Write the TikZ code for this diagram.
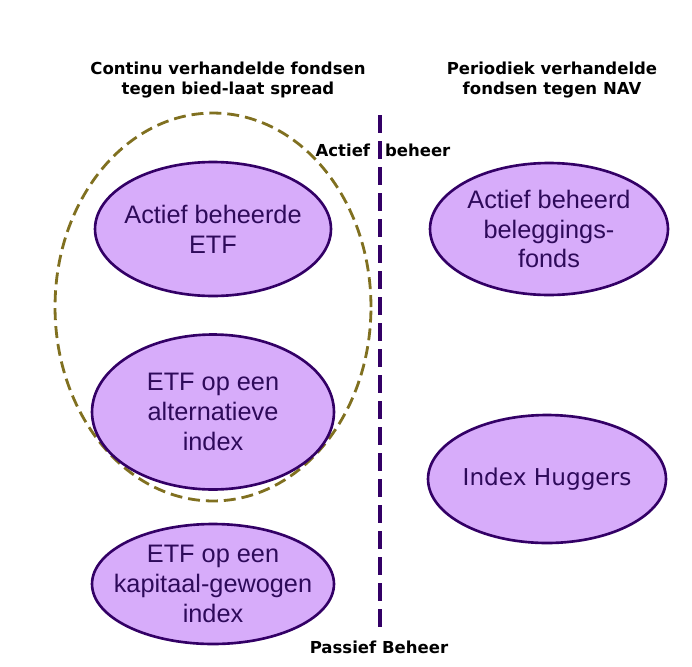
\documentclass[tikz,border=0pt]{standalone}
\usepackage{fontspec}
\setmainfont{Liberation Sans}
\newfontfamily\verdanalike{DejaVu Sans}
\usetikzlibrary{shapes.geometric,positioning}
\definecolor{lilac}{RGB}{215,172,250}
\definecolor{fundedge}{RGB}{51,0,102}
\definecolor{fundtext}{RGB}{46,10,90}
\definecolor{olivedash}{RGB}{128,112,32}

\tikzset{
	fund/.style={ellipse, draw=fundedge, fill=lilac, line width=1.5pt, inner sep=0pt},
	fundlabel/.style={text=fundtext, align=center, font=\fontsize{14.4}{17}\selectfont},
	heading/.style={align=center, font=\verdanalike\bfseries\fontsize{9.4}{11.3}\selectfont},
}

\begin{document}
\begin{tikzpicture}[x=0.02cm, y=-0.02cm]
		\useasboundingbox (0,0) rectangle (692,666);

		\node[heading] at (228,80)(hcont){Continu verhandelde fondsen\\tegen bied-laat spread};
		\node[heading] at (552,80)(hper){Periodiek verhandelde\\fondsen tegen NAV};

		\draw[olivedash, line width=1.6pt, dash pattern=on 6.8pt off 3.4pt]
			(213,307) ellipse [x radius=3.16cm, y radius=3.88cm];

		\node[fund, minimum width=4.72cm, minimum height=2.68cm,
			label={[fundlabel]center:Actief beheerde\\ETF}] at (213,229)(etfact){};
		\node[fund, minimum width=4.84cm, minimum height=3.1cm,
			label={[fundlabel]center:ETF op een\\alternatieve\\index}] at (213,412)(etfalt){};
		\node[fund, minimum width=4.84cm, minimum height=2.4cm,
			label={[fundlabel]center:ETF op een\\kapitaal-gewogen\\index}] at (213,584)(etfcap){};

		\node[fund, minimum width=4.76cm, minimum height=2.64cm,
			label={[fundlabel]center:Actief beheerd\\beleggings-\\fonds}] at (549,229)(fund){};
		\node[fund, minimum width=4.76cm, minimum height=2.56cm,
			label={[fundlabel, font=\verdanalike\fontsize{13.2}{16}\selectfont]center:Index Huggers}] at (547,479)(hug){};

		\node[heading] at (383,150)(act){Actief\hspace{0.9em}beheer};
		\node[heading] at (379,647)(pas){Passief\hspace{0.35em}Beheer};

		\coordinate (top) at (380,115);
		\coordinate (bot) at (380,630);
		\draw[fundedge, line width=2.4pt, dash pattern=on 10.2pt off 4.6pt] (top) -- (bot);
	\end{tikzpicture}
\end{document}
